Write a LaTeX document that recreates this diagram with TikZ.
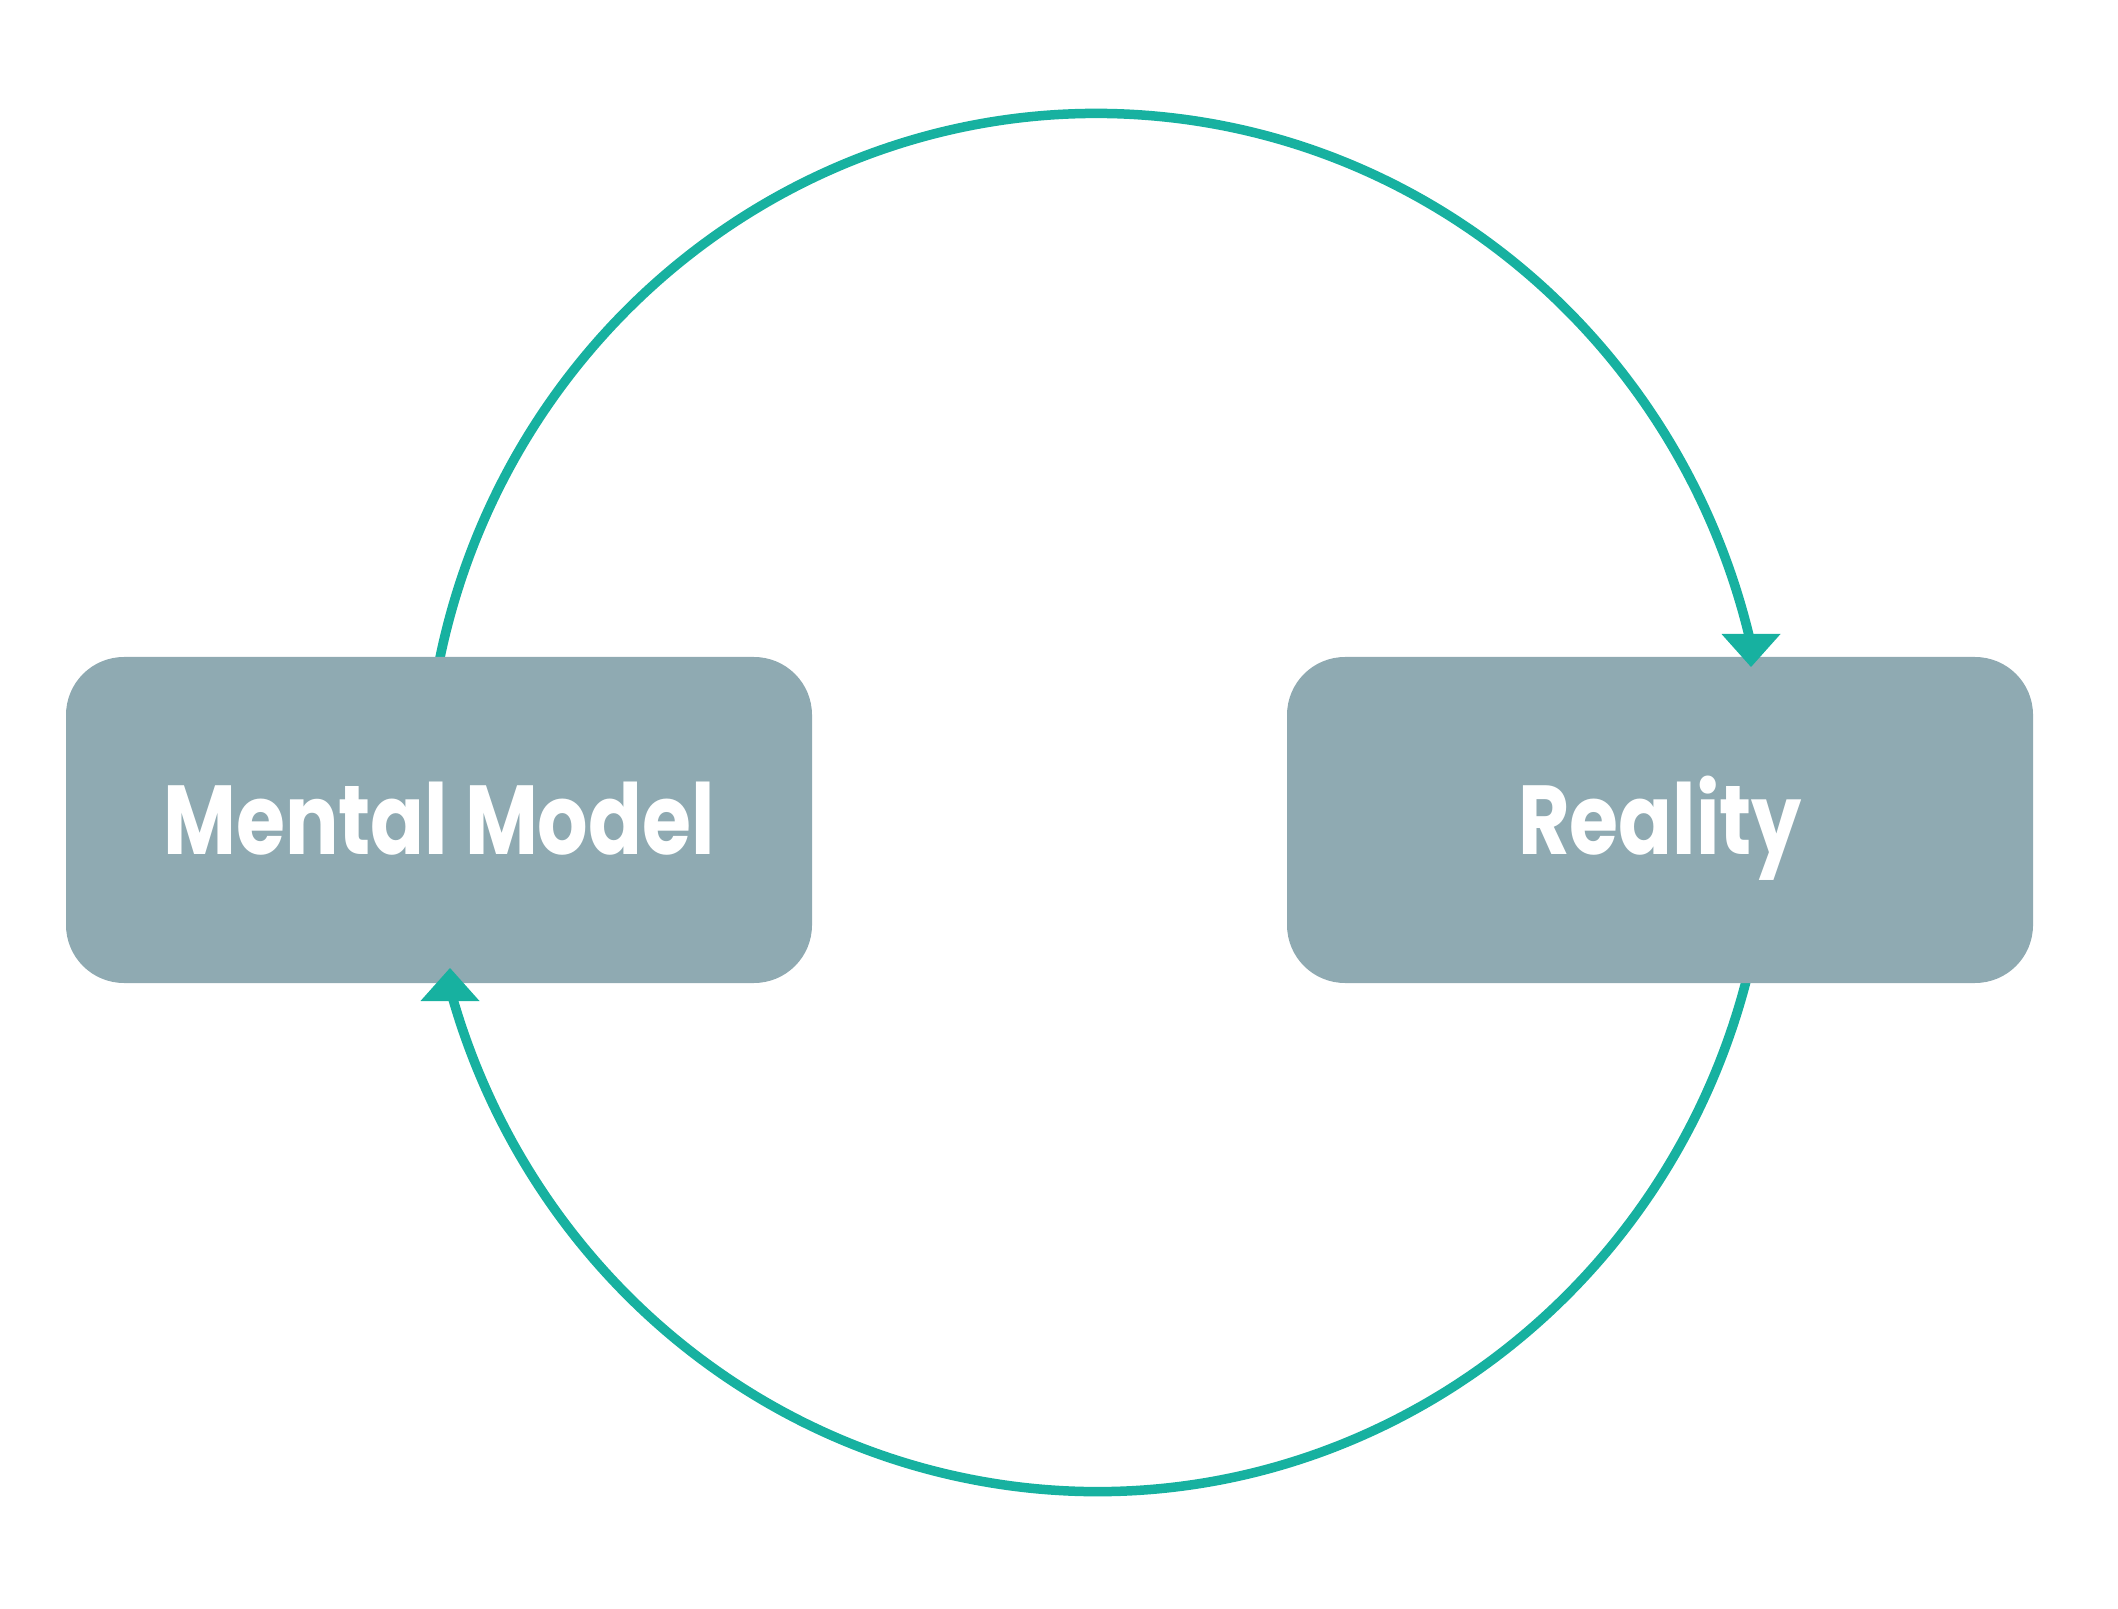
\documentclass[tikz,border=0pt]{standalone}
\usepackage{graphicx}
\usepackage{fontspec}
\newfontfamily\labfont{Poppins}
\definecolor{loopteal}{RGB}{23,177,160}
\definecolor{boxgray}{RGB}{143,170,178}
\newcommand{\narrowlab}[1]{\scalebox{0.81}[1]{#1}}
\begin{document}
\begin{tikzpicture}[x=0.5pt,y=0.5pt,
  box/.style={draw=none, fill=boxgray, rounded corners=29pt,
    minimum width=373pt, minimum height=163pt, inner sep=0pt,
    text=white, font=\labfont\bfseries\fontsize{49}{49}\selectfont,
    text height=34.5pt, text depth=0pt},
  loopline/.style={draw=loopteal, line width=4.75pt},
  tiphead/.style={fill=loopteal, draw=none}]
\useasboundingbox (0,0) rectangle (2118,1608);
\coordinate (c) at (1097,805.5);
% loop arcs (drawn first, partly hidden by the boxes)
\draw[loopline] (c) ++(172:672 and 689) arc[start angle=172, end angle=13, x radius=672, y radius=689] coordinate (endR);
\draw[loopline] (c) ++(-12:672 and 689) arc[start angle=-12, end angle=-164.4, x radius=672, y radius=689] coordinate (endL);
% boxes
\node[box] (mm) at (439,788) {\narrowlab{Mental Model}};
\node[box] (re) at (1660,788) {\narrowlab{Reality}};
% arrow heads
\coordinate (tipR) at (1751,941);
\coordinate (tipL) at (450,640);
\fill[tiphead] (tipR) -- ++(-29.5,33) -- ++(59,0) -- cycle;
\fill[tiphead] (tipL) -- ++(-29.5,-33) -- ++(59,0) -- cycle;
\end{tikzpicture}
\end{document}
